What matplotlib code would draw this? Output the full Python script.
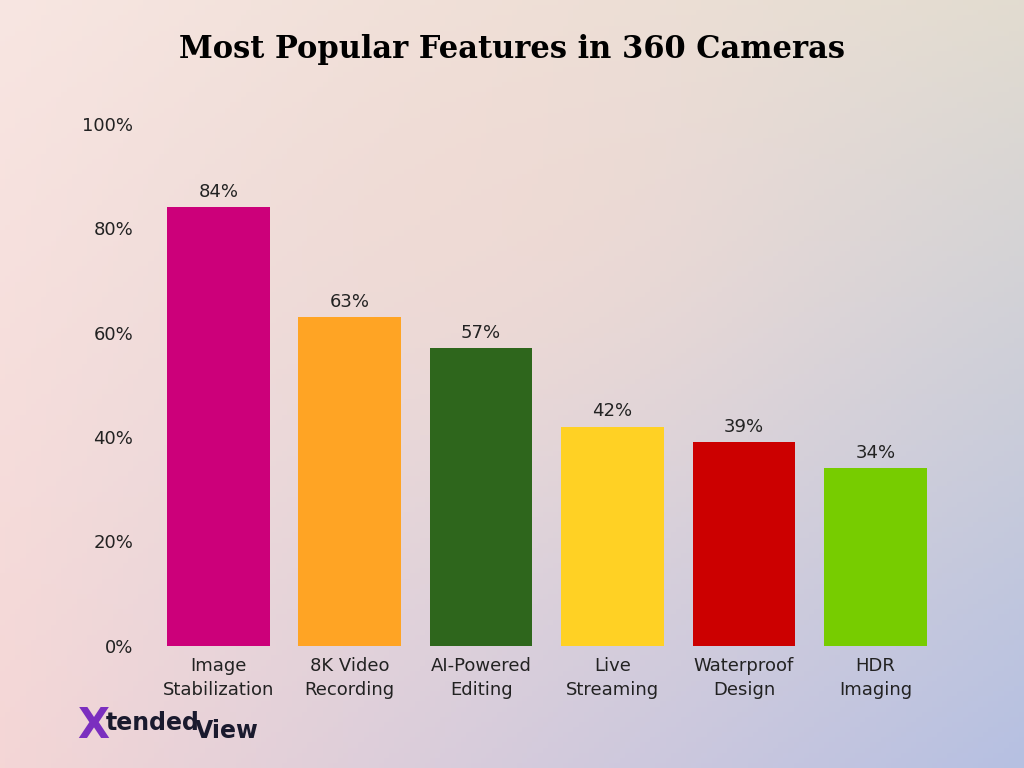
import matplotlib
matplotlib.use("Agg")
import matplotlib.pyplot as plt
import numpy as np

categories = ["Image\nStabilization", "8K Video\nRecording", "AI-Powered\nEditing", "Live\nStreaming", "Waterproof\nDesign", "HDR\nImaging"]
values = [84, 63, 57, 42, 39, 34]
colors = ["#cc007a", "#ffa424", "#2e661c", "#ffd124", "#cc0000", "#77cc00"]
yticks = [0, 20, 40, 60, 80, 100]

fig = plt.figure(figsize=(10.24, 7.68), dpi=100)
bg = fig.add_axes([0, 0, 1, 1])
tl = np.array([248, 230, 226]) / 255
tr = np.array([226, 220, 208]) / 255
bl = np.array([244, 214, 214]) / 255
br = np.array([182, 192, 226]) / 255
u = np.linspace(0, 1, 200)[None, :, None]
v = np.linspace(0, 1, 150)[:, None, None]
img = (1 - v) * ((1 - u) * tl + u * tr) + v * ((1 - u) * bl + u * br)
# peachy glow in the upper middle
glow = np.exp(-(((u - 0.5) / 0.3) ** 2 + ((v - 0.3) / 0.35) ** 2))
img = img * (1 - 0.5 * glow) + np.array([246, 218, 208]) / 255 * 0.5 * glow
bg.imshow(np.clip(img, 0, 1), aspect="auto", extent=[0, 1, 0, 1], origin="upper")
bg.axis("off")

ax = fig.add_axes([0.149, 0.159, 0.770, 0.680])
ax.patch.set_alpha(0)
x = np.arange(len(categories))
ax.bar(x, values, width=0.78, color=colors)
for xi, v_ in zip(x, values):
    ax.text(xi, v_ + 1.2, f"{v_}%", ha="center", va="bottom", fontsize=13, color="#222222")
ax.set_xlim(-0.5, 5.5)
ax.set_ylim(0, 100)
ax.set_yticks(yticks)
ax.set_yticklabels([f"{t}%" for t in yticks], fontsize=13, color="#222222")
ax.set_xticks(x)
ax.set_xticklabels(categories, fontsize=13, color="#222222", linespacing=1.45)
ax.tick_params(length=0, pad=8)
ax.tick_params(axis="y", pad=14)
for s in ax.spines.values():
    s.set_visible(False)

fig.text(0.5, 0.935, "Most Popular Features in 360 Cameras", ha="center", va="center",
         fontsize=22, fontweight="bold", family="DejaVu Serif", color="black")
fig.text(0.075, 0.055, "X", fontsize=30, fontweight="bold", color="#7b2fbf", va="center")
fig.text(0.103, 0.058, "tended", fontsize=17, fontweight="bold", color="#1a1a2e", va="center")
fig.text(0.19, 0.048, "View", fontsize=17, fontweight="bold", color="#1a1a2e", va="center")
fig.savefig("out.png", dpi=100)
